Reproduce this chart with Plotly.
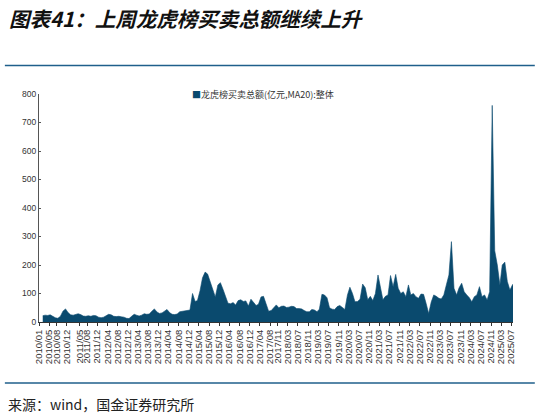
import pandas as pd
import plotly.graph_objects as go

# monthly points (mid-month), 2010/01 .. 2025/07
months = pd.date_range("2010-01-15", periods=187, freq="MS") + pd.Timedelta(days=14)

values = [
    # 2010
    22, 24, 23, 25, 20, 15, 13, 20, 38, 46, 33, 25,
    # 2011
    24, 27, 29, 26, 21, 20, 22, 20, 23, 22, 17, 15,
    # 2012
    17, 22, 27, 25, 20, 19, 20, 18, 17, 13, 12, 20,
    # 2013
    27, 24, 21, 24, 29, 27, 28, 38, 46, 35, 30, 32,
    # 2014
    40, 44, 33, 27, 26, 28, 36, 38, 40, 41, 42, 100,
    # 2015
    72, 75, 110, 155, 175, 168, 140, 110, 88, 130, 138, 115,
    # 2016
    90, 66, 64, 68, 60, 75, 78, 72, 74, 56, 80, 70,
    # 2017
    58, 62, 88, 90, 60, 38, 40, 52, 60, 50, 55, 56,
    # 2018
    51, 52, 55, 54, 47, 47, 46, 40, 36, 36, 44, 42,
    # 2019
    36, 45, 97, 95, 85, 50, 45, 44, 54, 58, 52, 44,
    # 2020
    95, 122, 100, 71, 72, 80, 133, 120, 78, 90, 75, 100,
    # 2021
    165, 120, 78, 90, 95, 163, 124, 167, 118, 100, 106, 89,
    # 2022
    130, 95, 100, 89, 83, 98, 97, 65, 30, 70, 95, 90,
    # 2023
    83, 81, 95, 130, 165, 282, 118, 95, 120, 136, 106, 95,
    # 2024
    85, 71, 89, 95, 124, 89, 95, 77, 106, 760, 250, 200,
    # 2025
    130, 200, 210, 142, 112, 130, 142,
]

tick_labels = [
    "2010/01", "2010/05", "2010/08", "2010/12", "2011/05", "2011/08", "2011/12",
    "2012/04", "2012/08", "2012/12", "2013/04", "2013/08", "2013/12", "2014/04",
    "2014/08", "2014/12", "2015/04", "2015/08", "2015/12", "2016/04", "2016/08",
    "2016/12", "2017/04", "2017/08", "2017/11", "2018/03", "2018/07", "2018/11",
    "2019/03", "2019/07", "2019/11", "2020/03", "2020/07", "2020/11", "2021/03",
    "2021/07", "2021/11", "2022/03", "2022/07", "2022/11", "2023/03", "2023/07",
    "2023/11", "2024/03", "2024/07", "2024/11", "2025/03", "2025/07",
]
tick_dates = [t.replace("/", "-") + "-01" for t in tick_labels]

series_name = "龙虎榜买卖总额(亿元,MA20):整体"
title_text = "图表41：上周龙虎榜买卖总额继续上升"
source_text = "来源：wind，国金证券研究所"

blue = "#0a4a6e"
rule = "#1f5f8b"

fig = go.Figure()
fig.add_trace(go.Scatter(
    x=months, y=values, name=series_name,
    mode="lines", fill="tozeroy",
    line=dict(color=blue, width=0.6), fillcolor=blue,
    showlegend=False,
))

fig.update_layout(
    width=541, height=416,
    margin=dict(l=39, r=28, t=94, b=94),
    paper_bgcolor="white", plot_bgcolor="white",
    font=dict(family="Liberation Sans, Arial", size=8, color="#333"),
    showlegend=False,
    xaxis=dict(
        type="date", range=["2010-01-01", "2025-07-22"],
        tickvals=tick_dates, ticktext=tick_labels, tickangle=-90,
        showline=True, linecolor="#333", linewidth=1,
        ticks="outside", ticklen=3, tickcolor="#333",
        showgrid=False, zeroline=False,
        tickfont=dict(size=9.5, color="#333"),
    ),
    yaxis=dict(
        range=[0, 800], dtick=100,
        showline=True, linecolor="#555", linewidth=1,
        ticks="inside", ticklen=2, tickcolor="#555",
        showgrid=False, zeroline=False,
        tickfont=dict(size=8.5, color="#333"),
    ),
)

# legend key: small square + series name, as in the original
fig.add_annotation(
    text=f"<span style='color:{blue}'>■</span>{series_name}",
    xref="paper", yref="paper", x=0.318, y=1.0,
    xanchor="left", yanchor="middle", showarrow=False,
    font=dict(family="Noto Sans CJK SC", size=9, color="#333"),
)

# header / footer rules
for yp in (1.125, -0.2675):
    fig.add_shape(type="line", xref="paper", yref="paper",
                  x0=-0.072, x1=1.046, y0=yp, y1=yp,
                  line=dict(color=rule, width=1.6))

fig.add_annotation(
    text=f"<b><i>{title_text}</i></b>", xref="paper", yref="paper",
    x=-0.068, y=1.333, xanchor="left", yanchor="middle", showarrow=False,
    font=dict(family="Noto Sans CJK SC", size=20.5, color="#111"),
)
fig.add_annotation(
    text=source_text, xref="paper", yref="paper",
    x=-0.07, y=-0.36, xanchor="left", yanchor="middle", showarrow=False,
    font=dict(family="Noto Sans CJK SC", size=14, color="#222"),
)

# drop the browser's default page margin so the figure sits at (0, 0)
fig.write_html("out.html", config={"displayModeBar": False},
               post_script="document.body.style.margin='0';")
